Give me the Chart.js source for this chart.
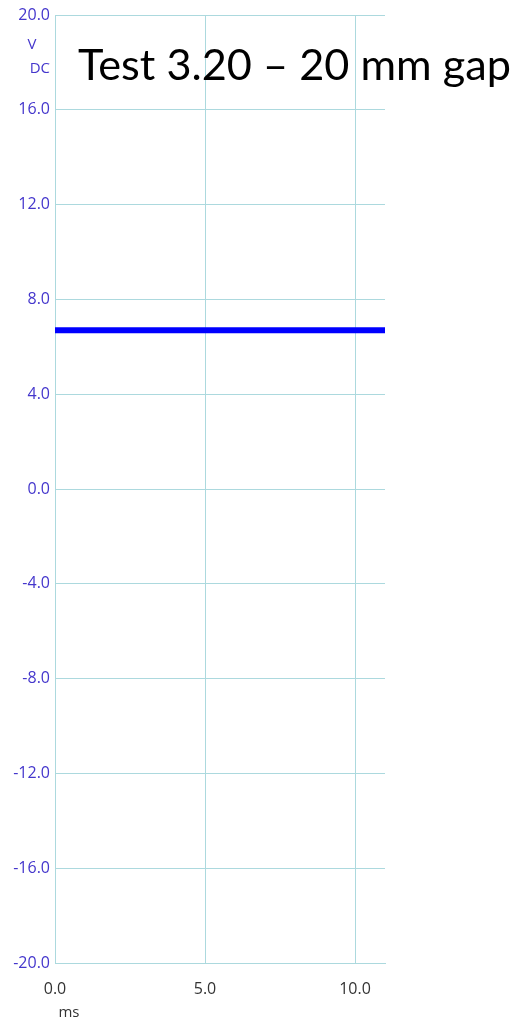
<!DOCTYPE html>
<html>
<head>
<meta charset="utf-8">
<script src="https://cdn.jsdelivr.net/npm/chart.js@4/dist/chart.umd.min.js"></script>
<style>
  html, body { margin: 0; padding: 0; background: #fff; }
  canvas { display: block; }
</style>
</head>
<body>
<canvas id="myChart" width="520" height="1026"></canvas>
<script>
const ctx = document.querySelector('#myChart')

// data
const timeMs = [0, 11]
const voltage = [6.7, 6.7]
const yTicks = [-20, -16, -12, -8, -4, 0, 4, 8, 12, 16, 20]
const xTicks = [0, 5, 10]
const title = 'Test 3.20 \u2013 20 mm gap'

const gridColor = '#acd9de'
const yLabelColor = '#4436cc'
const xLabelColor = '#333333'

// extra texts: title over the plot, unit labels
const textPlugin = {
    id: 'texts',
    afterDraw(chart) {
        const c = chart.ctx
        c.save()
        c.fillStyle = '#000'
        c.font = '43px Lato'
        c.textBaseline = 'alphabetic'
        c.textAlign = 'left'
        const w = c.measureText(title).width
        c.translate(78, 80)
        c.scale(433 / w, 1)
        c.fillText(title, 0, 0)
        c.restore()

        c.save()
        c.font = '15px "Open Sans"'
        c.textBaseline = 'middle'
        c.textAlign = 'center'
        c.fillStyle = yLabelColor
        c.fillText('V', 32, 45)
        c.textAlign = 'right'
        c.fillText('DC', 50, 69)
        c.fillStyle = xLabelColor
        c.textAlign = 'center'
        c.fillText('ms', 69, 1013)
        c.restore()
    }
}

new Chart(ctx, {
    type: 'line',
    data: {
        datasets: [{
            data: timeMs.map((t, i) => ({ x: t, y: voltage[i] })),
            borderColor: '#0000ff',
            borderWidth: 6,
            pointRadius: 0,
            fill: false,
        }]
    },
    options: {
        responsive: false,
        animation: false,
        layout: { padding: { left: 0, right: 135, top: 15, bottom: 0 } },
        plugins: {
            legend: { display: false },
            tooltip: { enabled: false },
        },
        scales: {
            x: {
                type: 'linear',
                min: 0,
                max: 11,
                afterFit: (s) => { s.height = 63 },
                afterBuildTicks: (s) => { s.ticks = xTicks.map(v => ({ value: v })) },
                grid: { color: gridColor, drawTicks: false },
                border: { color: gridColor },
                ticks: {
                    padding: 17,
                    color: xLabelColor,
                    font: { family: 'Open Sans', size: 16 },
                    maxRotation: 0,
                    callback: (v) => v.toFixed(1),
                },
            },
            y: {
                min: -20,
                max: 20,
                afterFit: (s) => { s.width = 55 },
                afterBuildTicks: (s) => { s.ticks = yTicks.map(v => ({ value: v })) },
                grid: { color: gridColor, drawTicks: false },
                border: { color: gridColor },
                ticks: {
                    padding: 5,
                    color: yLabelColor,
                    font: { family: 'Open Sans', size: 16 },
                    callback: (v) => v.toFixed(1),
                },
            },
        },
    },
    plugins: [textPlugin],
})
</script>
</body>
</html>
